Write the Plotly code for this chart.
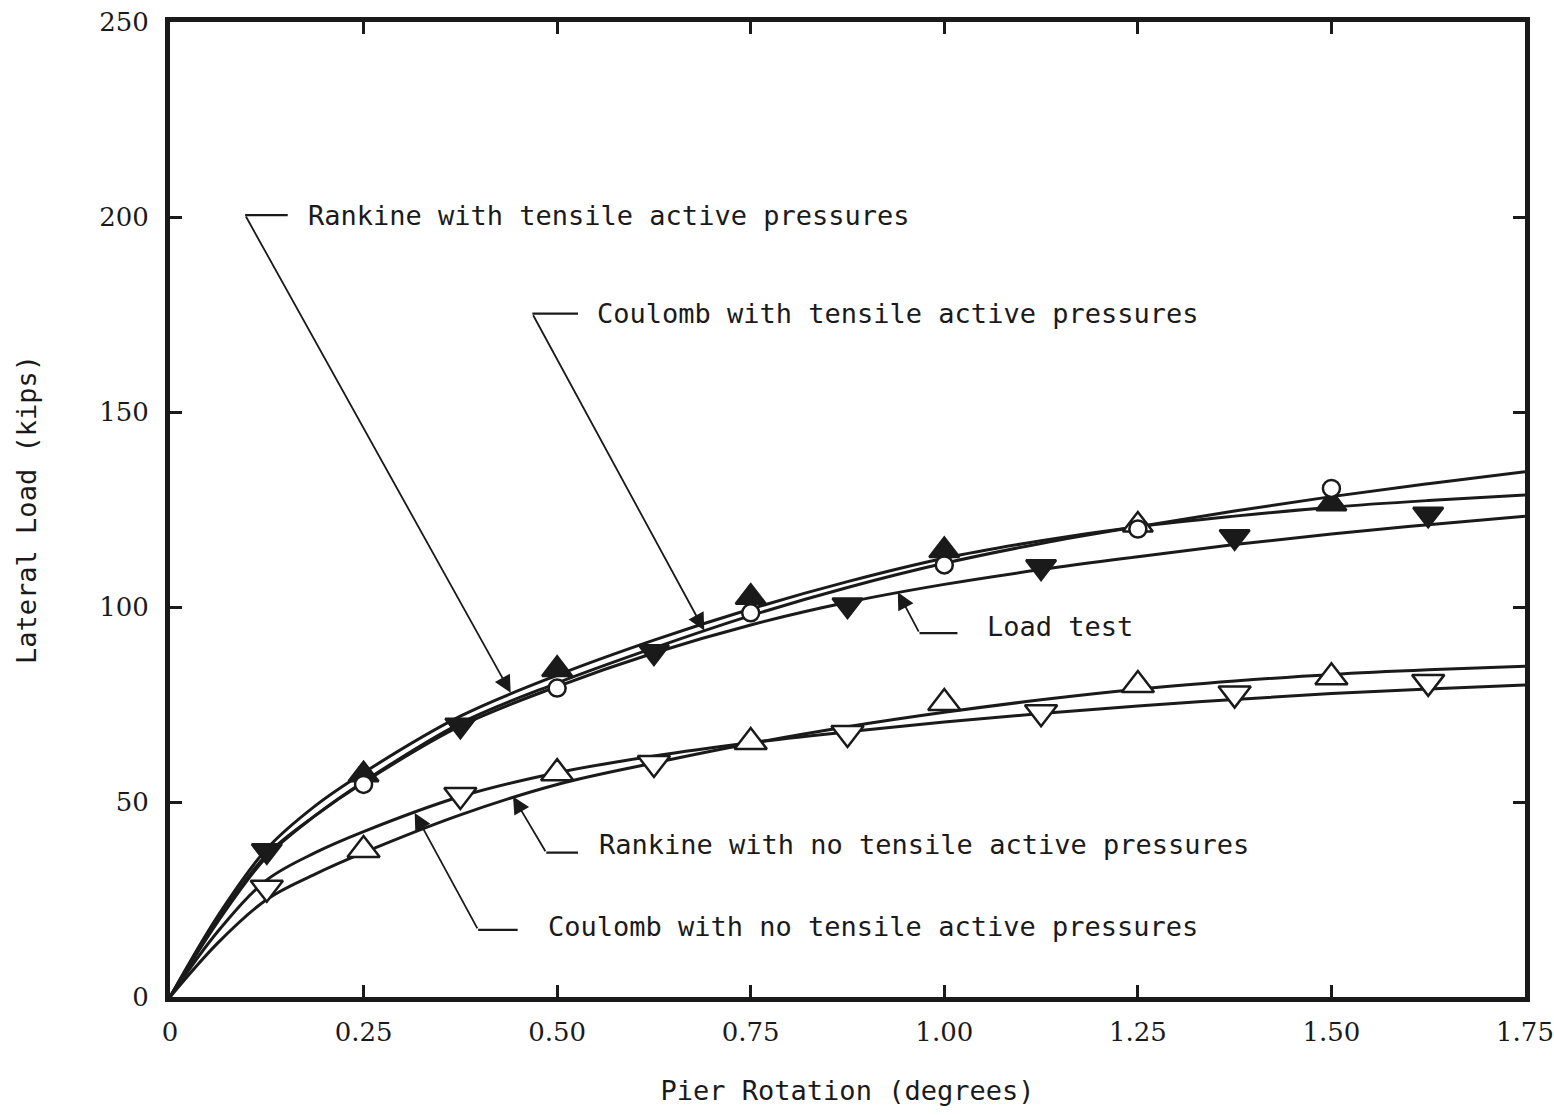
import plotly.graph_objects as go

# ---- data ----
curve_x = [0, 0.0625, 0.125, 0.1875, 0.25, 0.375, 0.5, 0.625, 0.75, 0.875, 1.0, 1.125, 1.25, 1.375, 1.5, 1.625, 1.75]
rankine_t_curve = [0, 21, 38, 49, 57.5, 72, 82.5, 91.5, 99.5, 106.5, 112.5, 117, 120.6, 123.3, 125.6, 127.3, 128.7]
coulomb_t_curve = [0, 19.5, 36, 46.5, 55.2, 70.2, 80.5, 89.5, 97.8, 105, 111.2, 116.3, 120.6, 124.6, 128.3, 131.6, 134.7]
load_test_curve = [0, 20, 36.5, 46.5, 55, 69.5, 79.6, 88.2, 95.4, 101.2, 105.8, 109.6, 112.9, 116, 118.7, 121.1, 123.3]
rankine_nt_curve = [0, 14, 25, 31.5, 37, 46.7, 54.5, 60, 65, 69.3, 73, 76.2, 78.9, 81, 82.7, 83.9, 84.8]
coulomb_nt_curve = [0, 17, 30, 37, 42.4, 51.4, 57.5, 61.8, 65.2, 68, 70.5, 72.7, 74.6, 76.3, 77.8, 79, 80]

even_x = [0.25, 0.5, 0.75, 1.0, 1.25, 1.5]
odd_x = [0.125, 0.375, 0.625, 0.875, 1.125, 1.375, 1.625]
rankine_t_pts = [57, 84, 102.5, 114.5, 121, 126.5]
coulomb_t_pts = [54.5, 79.2, 98.5, 110.8, 120, 130.4]
load_test_pts = [37.5, 69.7, 88.5, 100.5, 110.3, 118, 123.8]
rankine_nt_pts = [37.7, 57.4, 65.4, 75.4, 80, 82]
coulomb_nt_pts = [28, 51.8, 60, 67.7, 73, 77.8, 80.8]

x_ticks = [0, 0.25, 0.5, 0.75, 1.0, 1.25, 1.5, 1.75]
x_tick_labels = ["0", "0.25", "0.50", "0.75", "1.00", "1.25", "1.50", "1.75"]
y_ticks = [0, 50, 100, 150, 200, 250]

labels = ["Rankine with tensile active pressures",
          "Coulomb with tensile active pressures",
          "Load test",
          "Rankine with no tensile active pressures",
          "Coulomb with no tensile active pressures"]
# leader geometry in data units: (elbow_x, elbow_y, hline_end_x, text_x, text_y, tip_x, tip_y)
leaders = [
    (0.097, 200.5, 0.152, 0.176, 200.5, 0.440, 78.0),
    (0.468, 175.2, 0.527, 0.549, 175.2, 0.690, 94.0),
    (0.968, 93.3, 1.017, 1.052, 95.1, 0.940, 103.8),
    (0.486, 37.0, 0.527, 0.552, 39.0, 0.443, 51.4),
    (0.398, 17.2, 0.449, 0.486, 18.2, 0.316, 47.2),
]

LABEL_FONT = dict(family="DejaVu Sans Mono, Liberation Mono, monospace", size=27, color="#1a1a1a")
TICK_FONT = dict(family="DejaVu Serif, Liberation Serif, serif", size=26, color="#1a1a1a")
INK = "#1a1a1a"

fig = go.Figure()

for ys in [rankine_t_curve, coulomb_t_curve, load_test_curve, rankine_nt_curve, coulomb_nt_curve]:
    fig.add_trace(go.Scatter(x=curve_x, y=ys, mode="lines",
                             line=dict(color=INK, width=3, shape="spline", smoothing=1.0),
                             showlegend=False, hoverinfo="skip"))

def add_markers(xs, ys, symbol, fills, size):
    fig.add_trace(go.Scatter(x=xs, y=ys, mode="markers",
                             marker=dict(symbol=symbol, size=size, color=fills,
                                         line=dict(color=INK, width=2.5)),
                             showlegend=False))

add_markers(odd_x, load_test_pts, "triangle-down", INK, 26)
add_markers(even_x, rankine_t_pts, "triangle-up",
            [INK, INK, INK, INK, "white", INK], 26)
add_markers(even_x, coulomb_t_pts, "circle", "white", 17)
add_markers(even_x, rankine_nt_pts, "triangle-up", "white", 28)
add_markers(odd_x, coulomb_nt_pts, "triangle-down", "white", 28)

for text, (ex, ey, hx, tx, ty, px, py) in zip(labels, leaders):
    fig.add_shape(type="line", x0=ex, y0=ey, x1=hx, y1=ey, xref="x", yref="y",
                  line=dict(color=INK, width=2.2))
    fig.add_annotation(x=px, y=py, ax=ex, ay=ey, axref="x", ayref="y", xref="x", yref="y",
                       text="", showarrow=True, arrowhead=2, arrowsize=1.9, arrowwidth=1.8,
                       arrowcolor=INK, standoff=0, startstandoff=0)
    fig.add_annotation(x=tx, y=ty, xref="x", yref="y", text=text, showarrow=False,
                       xanchor="left", yanchor="middle", font=LABEL_FONT)

axis_common = dict(showgrid=False, zeroline=False, showline=True, linewidth=5, linecolor=INK,
                   mirror="allticks", ticks="inside", ticklen=12, tickwidth=2.5, tickcolor=INK,
                   tickfont=TICK_FONT, automargin=False)

fig.update_layout(
    width=1554, height=1115,
    margin=dict(l=170, r=29, t=22, b=118),
    paper_bgcolor="white", plot_bgcolor="white",
    xaxis=dict(range=[0, 1.75], tickvals=x_ticks, ticktext=x_tick_labels,
               ticklabelstandoff=8,
               title=dict(text="Pier Rotation (degrees)", font=LABEL_FONT, standoff=36),
               **axis_common),
    yaxis=dict(range=[0, 250], tickvals=y_ticks,
               ticklabelstandoff=11,
               title=dict(text="Lateral Load (kips)", font=LABEL_FONT, standoff=56),
               **axis_common),
)

fig.write_html("out.html")
